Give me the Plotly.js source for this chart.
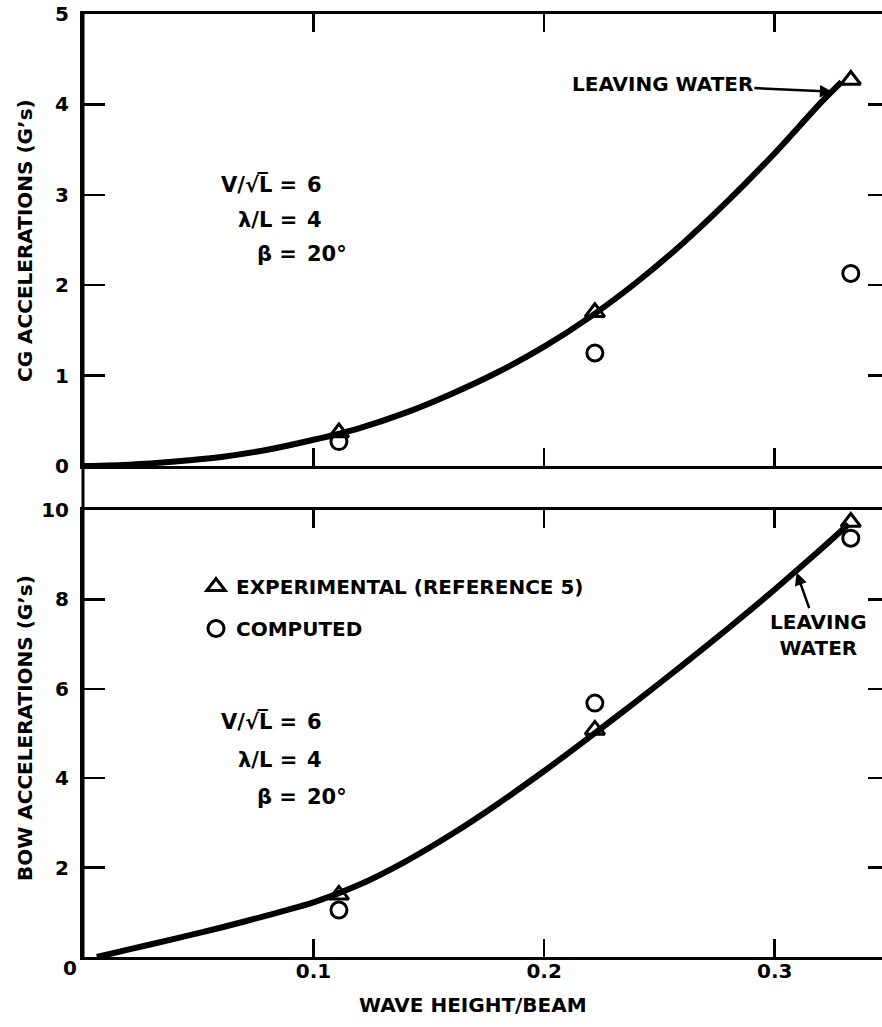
<!DOCTYPE html>
<html>
<head>
<meta charset="utf-8">
<script src="https://cdn.plot.ly/plotly-3.0.1.min.js"></script>
<style>
  html, body { margin: 0; padding: 0; overflow: hidden; background: #fff; }
  #chart { width: 900px; height: 1027px; }
</style>
</head>
<body>
<div id="chart"></div>
<script>
// Wave height / beam ratios of the test runs
const waveHeight = [0.111, 0.222, 0.333];

// CG accelerations (G's)
const cgExperimental = [0.37, 1.70, 4.27];
const cgComputed = [0.27, 1.25, 2.13];

// Bow accelerations (G's)
const bowExperimental = [1.39, 5.08, 9.73];
const bowComputed = [1.05, 5.68, 9.37];

// Faired curve through the experimental CG data
const cgCurveX = [0, 0.02, 0.04, 0.06, 0.08, 0.10, 0.12, 0.14, 0.16, 0.18, 0.20, 0.22, 0.24, 0.26, 0.28, 0.30, 0.32, 0.329];
const cgCurveY = [0, 0.015, 0.05, 0.10, 0.18, 0.29, 0.42, 0.59, 0.80, 1.04, 1.32, 1.65, 2.03, 2.46, 2.94, 3.46, 4.02, 4.25];

// Faired curve through the experimental bow data
const bowCurveX = [0.006, 0.02, 0.04, 0.06, 0.08, 0.10, 0.12, 0.14, 0.16, 0.18, 0.20, 0.22, 0.24, 0.26, 0.28, 0.30, 0.32, 0.332];
const bowCurveY = [0, 0.17, 0.41, 0.66, 0.93, 1.22, 1.62, 2.14, 2.75, 3.43, 4.16, 4.93, 5.72, 6.53, 7.36, 8.22, 9.12, 9.68];

// Axis ticks
const xTicks = [0.1, 0.2, 0.3];
const xTickText = ['0.1', '0.2', '0.3'];
const cgTicks = [0, 1, 2, 3, 4, 5];
const bowTicks = [2, 4, 6, 8, 10];

// Run conditions
const condLeft = ['V/\u221AL\u0305 =', '\u03BB/L =', '\u03B2 ='];
const condRight = ['6', '4', '20\u00B0'];

// Page geometry of the plotting area (pixels)
const W = 900, H = 1027;
const L = 83, R = 890, T = 14, B = 957;
const px = x => (x - L) / (R - L);
const py = y => (B - y) / (B - T);

const FONT = 'DejaVu Sans, Liberation Sans, Arial, sans-serif';
const ink = '#000';

const mTri = { symbol: 'triangle-up-open', size: 17, color: ink, line: { width: 3, color: ink } };
const mCir = { symbol: 'circle-open', size: 16, color: ink, line: { width: 3, color: ink } };

const curveLine = { color: ink, width: 6, shape: 'spline', smoothing: 0.6 };

const traces = [
  { x: cgCurveX, y: cgCurveY, xaxis: 'x2', yaxis: 'y2', mode: 'lines',
    line: curveLine, showlegend: false, hoverinfo: 'skip' },
  { x: waveHeight, y: cgExperimental, xaxis: 'x2', yaxis: 'y2', mode: 'markers', marker: mTri, showlegend: false },
  { x: waveHeight, y: cgComputed, xaxis: 'x2', yaxis: 'y2', mode: 'markers', marker: mCir, showlegend: false },
  { x: bowCurveX, y: bowCurveY, xaxis: 'x', yaxis: 'y', mode: 'lines',
    line: curveLine, showlegend: false, hoverinfo: 'skip' },
  { x: waveHeight, y: bowExperimental, xaxis: 'x', yaxis: 'y', mode: 'markers', marker: mTri,
    name: 'EXPERIMENTAL (REFERENCE 5)', legendgroup: 'a' },
  { x: waveHeight, y: bowComputed, xaxis: 'x', yaxis: 'y', mode: 'markers', marker: mCir,
    name: 'COMPUTED', legendgroup: 'b' }
];

const tickFont = { family: FONT, size: 20, color: ink, weight: 'bold' };

const frameAxis = {
  showline: true, linewidth: 3, linecolor: ink, mirror: 'ticks',
  ticks: 'inside', tickwidth: 2.5, tickcolor: ink,
  showgrid: false, zeroline: false, tickfont: tickFont, fixedrange: true
};

const cgTop = py(466);
const bowTop = py(510);

const annotations = [];
const annFont = { family: FONT, size: 20, color: ink, weight: 'bold' };

function addText(text, x, y, xanchor, extra) {
  annotations.push(Object.assign({
    text: text, xref: 'paper', yref: 'paper', x: px(x), y: py(y),
    xanchor: xanchor, yanchor: 'middle', showarrow: false, font: annFont
  }, extra || {}));
}

// Run-condition blocks in both panels
const condFont = Object.assign({}, annFont, { size: 21 });
const condRowsTop = [185, 220, 254];
const condRowsBow = [722, 760, 797];
[condRowsTop, condRowsBow].forEach(rows => {
  rows.forEach((y, i) => {
    addText(condLeft[i], 299, y, 'right', { font: condFont });
    addText(condRight[i], 305, y, 'left', { font: condFont });
  });
});

// Axis titles
const titleFont = Object.assign({}, annFont, { size: 20 });
addText('CG ACCELERATIONS (G\u2019s)', 25, 241, 'center', { textangle: -90, font: titleFont });
addText('BOW ACCELERATIONS (G\u2019s)', 25, 728, 'center', { textangle: -90, font: titleFont });
addText('WAVE HEIGHT/BEAM', 473, 1005, 'center', { font: titleFont });
// Shared origin label, set on the row of the x tick labels
addText('0', 70, 968, 'center', { font: tickFont });

// "Leaving water" call-outs
annotations.push({
  text: 'LEAVING WATER', xref: 'x2', yref: 'y2', x: 0.325, y: 4.14,
  ax: -170, ay: -8, showarrow: true, arrowhead: 2, arrowsize: 1, arrowwidth: 2.5,
  arrowcolor: ink, font: annFont, standoff: 0
});
annotations.push({
  text: 'LEAVING<br>WATER', xref: 'x', yref: 'y', x: 0.3095, y: 8.6,
  ax: 22, ay: 62, showarrow: true, arrowhead: 2, arrowsize: 1, arrowwidth: 2.5,
  arrowcolor: ink, font: annFont, align: 'center', standoff: 0
});

const layout = {
  width: W, height: H,
  margin: { l: L, r: W - R, t: T, b: H - B, pad: 0 },
  paper_bgcolor: '#fff', plot_bgcolor: '#fff',
  font: { family: FONT, color: ink, weight: 'bold' },
  showlegend: true,
  legend: {
    x: px(196), y: py(567), xanchor: 'left', yanchor: 'top',
    font: annFont, bgcolor: 'rgba(0,0,0,0)', borderwidth: 0,
    tracegroupgap: 13, itemclick: false, itemdoubleclick: false
  },
  xaxis: Object.assign({}, frameAxis, {
    anchor: 'y', range: [0, 0.35], tickvals: xTicks, ticktext: xTickText,
    ticklen: 18, ticklabelstandoff: -6
  }),
  xaxis2: Object.assign({}, frameAxis, {
    anchor: 'y2', range: [0, 0.35], tickvals: xTicks, showticklabels: false, ticklen: 18
  }),
  yaxis: Object.assign({}, frameAxis, {
    domain: [0, bowTop], range: [0, 10], tickvals: bowTicks, ticklen: 22, ticklabelstandoff: 7
  }),
  yaxis2: Object.assign({}, frameAxis, {
    domain: [cgTop, 1], range: [0, 5], tickvals: cgTicks, ticklen: 22, ticklabelstandoff: 7
  }),
  shapes: [
    // left spine runs unbroken through the gap between panels
    { type: 'line', xref: 'paper', yref: 'paper', x0: 0, x1: 0, y0: 0, y1: 1,
      line: { color: ink, width: 3 } }
  ],
  annotations: annotations
};

Plotly.newPlot('chart', traces, layout, { displayModeBar: false, staticPlot: true });
</script>
</body>
</html>
